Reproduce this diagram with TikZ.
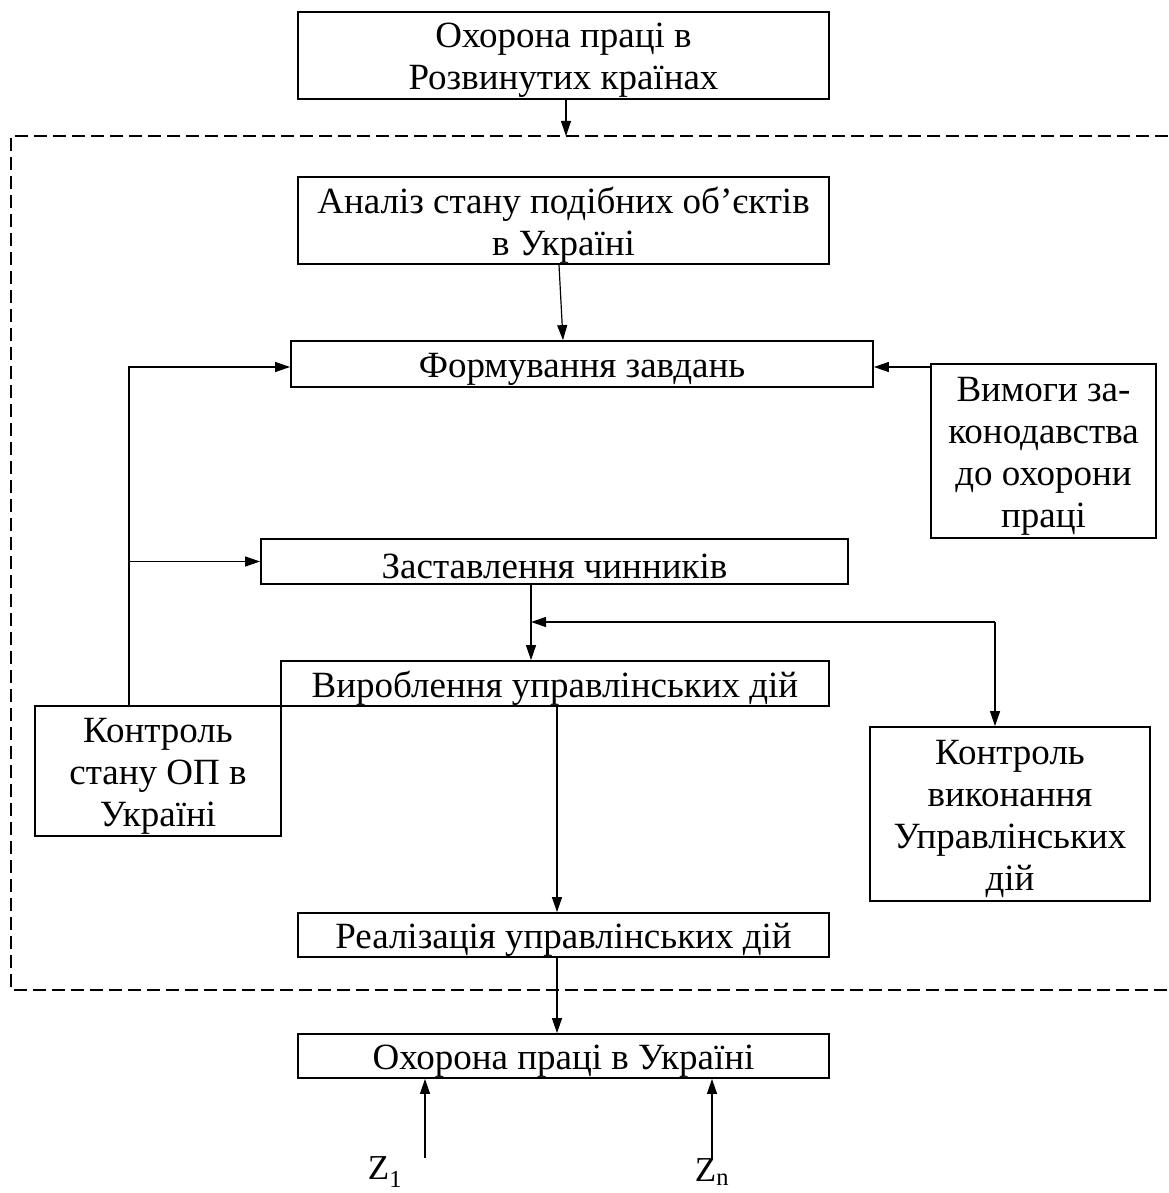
\documentclass[tikz,border=0pt]{standalone}
\usepackage{fontspec}
\setmainfont{Liberation Serif}
\usetikzlibrary{arrows.meta}
\begin{document}
\begin{tikzpicture}[x=1pt,y=-1pt,
  box/.style={draw,line width=1.8pt,inner sep=0pt},
  txt/.style={inner sep=0pt,align=center,font=\fontsize{37}{42}\selectfont},
  conn/.style={line width=1.2pt,-{Triangle[length=15pt,width=10pt]}},
  lbl/.style={inner sep=0pt,font=\fontsize{35}{40}\selectfont}]
\useasboundingbox (0,0) rectangle (1168,1193);
\fill[white] (0,0) rectangle (1168,1193);
% dashed frame (right side lies beyond the picture)
\draw[line width=1.3pt,dash pattern=on 13pt off 6pt] (1168,136) -- (11,136) -- (11,990) -- (1168,990);
% boxes
\node[box,minimum width=531pt,minimum height=87pt] (top) at (563.5,55.5) {};
\node[box,minimum width=531pt,minimum height=87pt] (anal) at (563.5,220.5) {};
\node[box,minimum width=582pt,minimum height=46pt] (form) at (582,364) {};
\node[box,minimum width=225pt,minimum height=174pt] (vym) at (1043.5,451) {};
\node[box,minimum width=587pt,minimum height=45pt] (zast) at (554.5,561.5) {};
\node[box,minimum width=548pt,minimum height=45pt] (vyr) at (555,683.5) {};
\node[box,minimum width=246pt,minimum height=130pt] (ks) at (158,771) {};
\node[box,minimum width=280pt,minimum height=174pt] (kv) at (1010,814) {};
\node[box,minimum width=531pt,minimum height=44pt] (real) at (563.5,935) {};
\node[box,minimum width=531pt,minimum height=44pt] (ukr) at (563.5,1056) {};
% texts
\node[txt] (topt) at ([yshift=-5pt]top.center) {Охорона праці в\\Розвинутих країнах};
\node[txt] (analt) at ([yshift=-5pt]anal.center) {Аналіз стану подібних об’єктів\\в Україні};
\node[txt] (formt) at ([yshift=-5pt]form.center) {Формування завдань};
\node[txt] (vymt) at ([yshift=-5pt]vym.center) {Вимоги за-\\конодавства\\до охорони\\праці};
\node[txt] (zastt) at ([yshift=-5pt]zast.center) {Заставлення чинників};
\node[txt] (vyrt) at ([yshift=-5pt]vyr.center) {Вироблення управлінських дій};
\node[txt] (kst) at ([yshift=-5pt]ks.center) {Контроль\\стану ОП в\\Україні};
\node[txt] (kvt) at ([yshift=-5pt]kv.center) {Контроль\\виконання\\Управлінських\\дій};
\node[txt] (realt) at ([yshift=-5pt]real.center) {Реалізація управлінських дій};
\node[txt] (ukrt) at ([yshift=-5pt]ukr.center) {Охорона праці в Україні};
\node[lbl] (z1) at (385,1172) {Z\textsubscript{1}};
\node[lbl] (zn) at (712,1172) {Z\textsubscript{n}};
% coordinates
\coordinate (frametop) at (566,136);
\coordinate (lft) at (129,367);
\coordinate (rgt) at (995,622);
\coordinate (z1s) at (425,1158);
\coordinate (zns) at (712,1158);
% connectors
\draw[conn] (top.south -| frametop) -- (frametop);
\draw[conn] (anal.south -| 559,0) -- (form.north -| 563,0);
\draw[conn] (vym.west |- lft) -- (form.east |- lft);
\draw[conn] (ks.north -| lft) -- (lft) -- (form.west |- lft);
\draw[conn] (ks.north -| lft) |- (zast.west);
\draw[conn] (zast.south -| 531,0) -- (vyr.north -| 531,0);
\draw[conn] (rgt) -- (rgt -| 531,0);
\draw[conn] (rgt) -- (kv.north -| rgt);
\draw[conn] (vyr.south -| 557,0) -- (real.north -| 557,0);
\draw[conn] (real.south -| 557,0) -- (ukr.north -| 557,0);
\draw[conn] (z1s) -- (ukr.south -| z1s);
\draw[conn] (zns) -- (ukr.south -| zns);
\end{tikzpicture}
\end{document}
